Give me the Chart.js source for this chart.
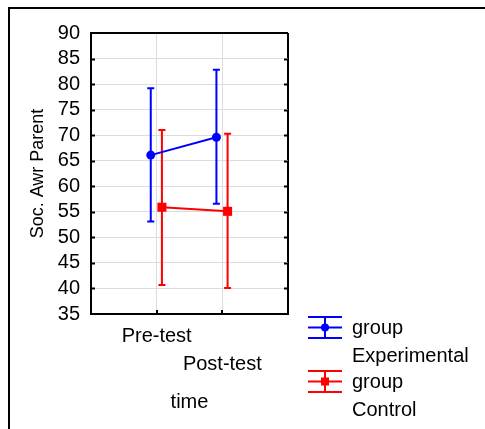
<!DOCTYPE html>
<html>
<head>
    <title>Soc. Awr Parent by time and group</title>
    <style>
        body{
            margin:0;
            overflow:hidden;
            background:white;
        }
        .frame{
            position:absolute;
            left:8px;
            top:7px;
            width:477px;
            height:422px;
            box-sizing:border-box;
            border-left:2px solid black;
            border-top:2px solid black;
        }
        canvas{
            position:absolute;
            left:0;
            top:0;
        }
    </style>
</head>
<body>
<div class="frame"></div>
<canvas id="chart" width="485" height="429"></canvas>

<script src="https://cdn.jsdelivr.net/npm/chart.js@4/dist/chart.umd.min.js"></script>
<script>
    const times = ['Pre-test', 'Post-test'];
    const groups = ['Experimental', 'Control'];

    // means with lower / upper ends of the whiskers
    const expMean = [66.1, 69.6];
    const expLow = [53.1, 56.6];
    const expHigh = [79.2, 82.8];
    const ctlMean = [55.9, 55.1];
    const ctlLow = [40.7, 40.1];
    const ctlHigh = [71.0, 70.3];

    const yMin = 35;
    const yMax = 90;
    const yStep = 5;

    const blue = '#0000ff';
    const red = '#ff0000';
    const fontFamily = '"Liberation Sans", Arial, sans-serif';

    Chart.defaults.font.family = fontFamily;
    Chart.defaults.color = '#000';

    // groups sit a little left / right of each time point
    const shift = [-0.09, 0.08];

    function points(means, g) {
        return means.map((m, i) => ({x: i + 1 + shift[g], y: m}));
    }

    const errorBars = {
        id: 'errorBars',
        beforeDatasetsDraw(chart) {
            const ctx = chart.ctx;
            const y = chart.scales.y;
            chart.data.datasets.forEach((ds, i) => {
                const meta = chart.getDatasetMeta(i);
                ctx.save();
                ctx.strokeStyle = ds.borderColor;
                ctx.lineWidth = 2;
                meta.data.forEach((pt, j) => {
                    const top = y.getPixelForValue(ds.high[j]);
                    const bottom = y.getPixelForValue(ds.low[j]);
                    ctx.beginPath();
                    ctx.moveTo(pt.x, top);
                    ctx.lineTo(pt.x, bottom);
                    ctx.moveTo(pt.x - 3.5, top);
                    ctx.lineTo(pt.x + 3.5, top);
                    ctx.moveTo(pt.x - 3.5, bottom);
                    ctx.lineTo(pt.x + 3.5, bottom);
                    ctx.stroke();
                });
                ctx.restore();
            });
        }
    };

    // small tick marks pointing into the plot frame
    const innerTicks = {
        id: 'innerTicks',
        afterDraw(chart) {
            const ctx = chart.ctx;
            const area = chart.chartArea;
            const x = chart.scales.x;
            const y = chart.scales.y;
            ctx.save();
            ctx.strokeStyle = '#000';
            ctx.lineWidth = 2;
            ctx.beginPath();
            y.ticks.forEach(t => {
                if (t.value <= yMin || t.value >= yMax) return;
                const py = Math.round(y.getPixelForValue(t.value)) + 0.5;
                ctx.moveTo(area.left, py);
                ctx.lineTo(area.left + 4, py);
                ctx.moveTo(area.right, py);
                ctx.lineTo(area.right - 4, py);
            });
            times.forEach((t, i) => {
                const px = Math.round(x.getPixelForValue(i + 1));
                ctx.moveTo(px, area.bottom);
                ctx.lineTo(px, area.bottom - 4);
            });
            ctx.stroke();
            ctx.restore();
        }
    };

    // legend: whisker icon plus "group" / group name on two lines
    const groupLegend = {
        id: 'groupLegend',
        afterDraw(chart) {
            const ctx = chart.ctx;
            const cx = 325;
            const tx = 352;
            const tops = [317, 371];
            chart.data.datasets.forEach((ds, i) => {
                const top = tops[i];
                const mid = top + 10.5;
                const bottom = top + 21;
                ctx.save();
                ctx.strokeStyle = ds.borderColor;
                ctx.fillStyle = ds.borderColor;
                ctx.lineWidth = 2;
                ctx.beginPath();
                [top, mid, bottom].forEach(py => {
                    ctx.moveTo(cx - 17, py);
                    ctx.lineTo(cx + 17, py);
                });
                ctx.moveTo(cx, top);
                ctx.lineTo(cx, bottom);
                ctx.stroke();
                if (ds.pointStyle === 'rect') {
                    ctx.fillRect(cx - 4, mid - 4, 8, 8);
                } else {
                    ctx.beginPath();
                    ctx.arc(cx, mid, 4, 0, Math.PI * 2);
                    ctx.fill();
                }
                ctx.fillStyle = '#000';
                ctx.font = '20px ' + fontFamily;
                ctx.textBaseline = 'alphabetic';
                ctx.fillText('group', tx, top + 17);
                ctx.fillText(groups[i], tx, top + 45);
                ctx.restore();
            });
        }
    };

    const frameColor = (edges) => (c) => edges.includes(c.tick.value) ? '#000' : '#dcdcdc';
    const frameWidth = (edges) => (c) => edges.includes(c.tick.value) ? 2 : 1;

    new Chart('chart', {
        type: 'line',
        data: {
            datasets: [{
                label: 'group ' + groups[0],
                data: points(expMean, 0),
                low: expLow,
                high: expHigh,
                borderColor: blue,
                backgroundColor: blue,
                borderWidth: 2,
                pointStyle: 'circle',
                pointRadius: 4.5,
                pointBorderWidth: 0,
                fill: false
            }, {
                label: 'group ' + groups[1],
                data: points(ctlMean, 1),
                low: ctlLow,
                high: ctlHigh,
                borderColor: red,
                backgroundColor: red,
                borderWidth: 2,
                pointStyle: 'rect',
                pointRadius: 6.4,
                pointBorderWidth: 0,
                fill: false
            }]
        },
        options: {
            responsive: false,
            animation: false,
            layout: {
                padding: {top: 33, right: 197, left: 0, bottom: 0}
            },
            plugins: {
                legend: {display: false},
                tooltip: {enabled: false}
            },
            scales: {
                x: {
                    type: 'linear',
                    min: 0,
                    max: times.length + 1,
                    afterFit(scale) { scale.height = 115; },
                    ticks: {
                        stepSize: 1,
                        autoSkip: false,
                        maxRotation: 0,
                        padding: 8,
                        font: {size: 20, lineHeight: 1.4},
                        callback(value) {
                            const i = value - 1;
                            if (i < 0 || i >= times.length) return '';
                            return i % 2 ? ['', times[i]] : times[i];
                        }
                    },
                    grid: {
                        drawTicks: false,
                        color: frameColor([0, times.length + 1]),
                        lineWidth: frameWidth([0, times.length + 1])
                    },
                    border: {color: '#000', width: 2},
                    title: {
                        display: true,
                        text: 'time',
                        font: {size: 20},
                        padding: {top: 4, bottom: 15}
                    }
                },
                y: {
                    min: yMin,
                    max: yMax,
                    afterFit(scale) { scale.width = 91; },
                    ticks: {
                        stepSize: yStep,
                        autoSkip: false,
                        padding: 11,
                        font: {size: 20}
                    },
                    grid: {
                        drawTicks: false,
                        color: frameColor([yMin, yMax]),
                        lineWidth: frameWidth([yMin, yMax])
                    },
                    border: {color: '#000', width: 2},
                    title: {
                        display: true,
                        text: 'Soc. Awr Parent',
                        font: {size: 18},
                        padding: {top: 27, bottom: 0}
                    }
                }
            }
        },
        plugins: [errorBars, innerTicks, groupLegend]
    });
</script>
</body>
</html>
